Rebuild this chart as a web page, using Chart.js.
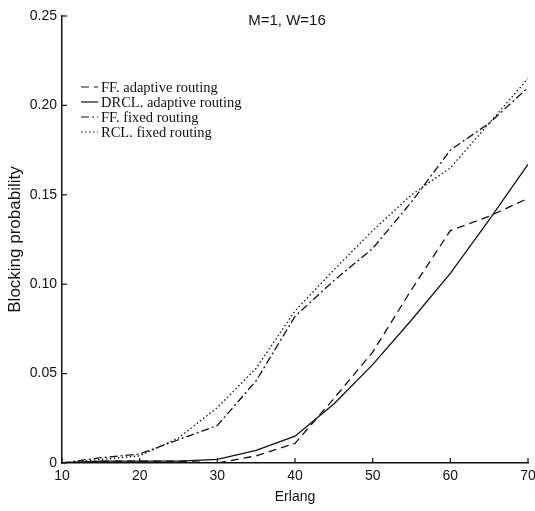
<!DOCTYPE html>
<html>
<head>
<meta charset="utf-8">
<script src="https://cdn.jsdelivr.net/npm/chart.js@4/dist/chart.umd.min.js"></script>
<style>
html,body{margin:0;padding:0;background:#fff;}
#wrap{width:535px;height:511px;position:relative;}
</style>
</head>
<body>
<div id="wrap"><canvas id="c" width="535" height="511"></canvas></div>
<script>
// Erlang load
var erlang = [10,15,20,25,30,35,40,45,50,55,60,65,70];
// blocking probability per series
var ffAdaptive   = [0,0.001,0.001,0.001,0.000,0.004,0.011,0.036,0.062,0.097,0.130,0.138,0.148];
var drclAdaptive = [0,0.001,0.001,0.001,0.002,0.007,0.015,0.033,0.055,0.080,0.106,0.136,0.167];
var ffFixed      = [0,0.003,0.005,0.013,0.021,0.046,0.082,0.102,0.120,0.146,0.175,0.190,0.210];
var rclFixed     = [0,0.002,0.004,0.014,0.031,0.053,0.085,0.108,0.130,0.150,0.165,0.190,0.215];
var names = ['FF. adaptive routing','DRCL. adaptive routing','FF. fixed routing','RCL. fixed routing'];
var dashes = [[8,5],[],[8,3,2,3],[1.5,2.5]];
var xTicks = [10,20,30,40,50,60,70];
var yTicks = [0,0.05,0.10,0.15,0.20,0.25];

function pts(ys){ return erlang.map(function(x,i){ return {x:x,y:ys[i]}; }); }

var series = [ffAdaptive, drclAdaptive, ffFixed, rclFixed];
var datasets = series.map(function(s,i){
  return {label:names[i], data:pts(s), borderColor:'#111', borderWidth:1.3,
    borderDash:dashes[i], pointRadius:0, tension:0, fill:false};
});

// inward tick marks, title and legend inside the plot
var extras = {
  id:'extras',
  afterDraw:function(chart){
    var c = chart.ctx, xs = chart.scales.x, ys = chart.scales.y, a = chart.chartArea;
    c.save();
    c.strokeStyle = '#111'; c.lineWidth = 1.2; c.setLineDash([]);
    xTicks.forEach(function(v){
      var px = xs.getPixelForValue(v);
      c.beginPath(); c.moveTo(px, a.bottom); c.lineTo(px, a.bottom-5); c.stroke();
    });
    yTicks.forEach(function(v){
      var py = ys.getPixelForValue(v);
      c.beginPath(); c.moveTo(a.left, py); c.lineTo(a.left+5, py); c.stroke();
    });
    c.fillStyle = '#111';
    c.font = '15px "Liberation Sans", Arial, sans-serif';
    c.textAlign = 'center'; c.textBaseline = 'middle';
    c.fillText('M=1, W=16', 287, 21);
    c.font = '14.5px "Liberation Serif", "Times New Roman", serif';
    c.textAlign = 'left';
    var rowY = [87, 102, 117, 132];
    names.forEach(function(n,i){
      c.lineWidth = 1.2;
      c.setLineDash(dashes[i]);
      c.beginPath(); c.moveTo(81, rowY[i]); c.lineTo(98, rowY[i]); c.stroke();
      c.setLineDash([]);
      c.fillText(n, 101, rowY[i]+1);
    });
    c.restore();
  }
};

new Chart(document.getElementById('c').getContext('2d'), {
  type:'line',
  data:{datasets:datasets},
  options:{
    responsive:false, animation:false,
    layout:{padding:{top:16, right:7, left:0, bottom:0}},
    plugins:{legend:{display:false}, tooltip:{enabled:false}},
    scales:{
      x:{type:'linear', min:10, max:70,
        afterFit:function(s){ s.height = 48; s.paddingRight = 0; s.paddingLeft = 0; },
        afterBuildTicks:function(s){ s.ticks = xTicks.map(function(v){return {value:v};}); },
        grid:{drawOnChartArea:false, drawTicks:false},
        border:{color:'#111', width:1.5},
        ticks:{color:'#111', padding:5, font:{family:'"Liberation Sans", Arial, sans-serif', size:14}},
        title:{display:true, text:'Erlang', color:'#111', padding:{top:0,bottom:5},
          font:{family:'"Liberation Sans", Arial, sans-serif', size:14}}
      },
      y:{min:0, max:0.25,
        afterFit:function(s){ s.width = 62; },
        afterBuildTicks:function(s){ s.ticks = yTicks.map(function(v){return {value:v};}); },
        grid:{drawOnChartArea:false, drawTicks:false},
        border:{color:'#111', width:1.5},
        ticks:{color:'#111', padding:5,
          callback:function(v){ return v===0 ? '0' : v.toFixed(2); },
          font:{family:'"Liberation Sans", Arial, sans-serif', size:14}},
        title:{display:true, text:'Blocking probability', color:'#111', padding:{top:5,bottom:0},
          font:{family:'"Liberation Sans", Arial, sans-serif', size:17}}
      }
    }
  },
  plugins:[extras]
});
</script>
</body>
</html>
